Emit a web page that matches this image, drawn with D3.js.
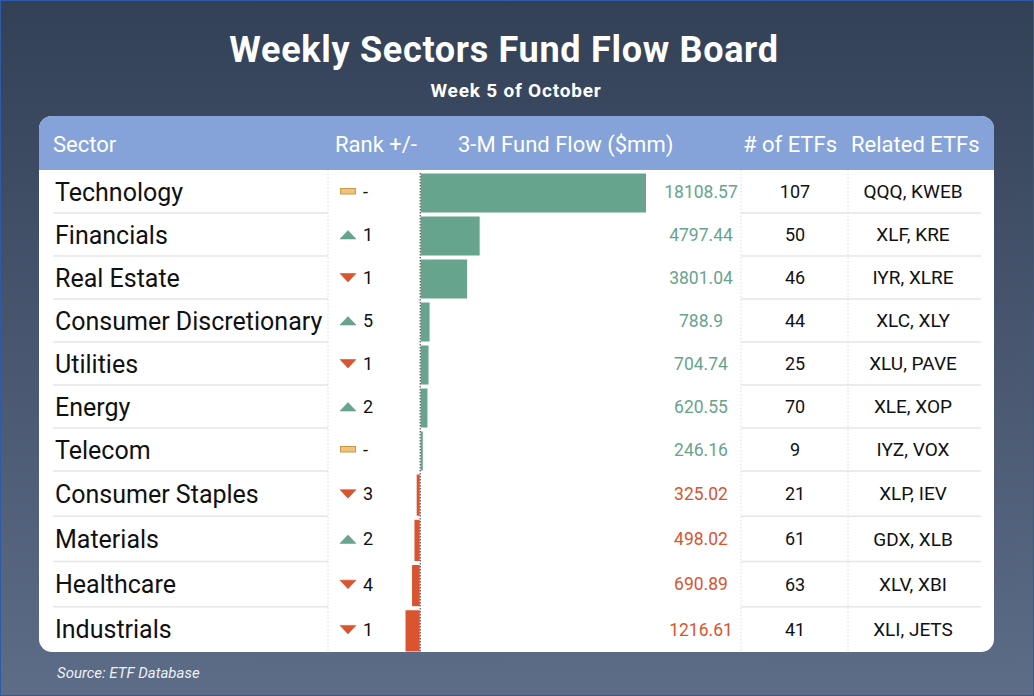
<!DOCTYPE html>
<html>
<head>
<meta charset="utf-8">
<script src="https://cdn.jsdelivr.net/npm/d3@7"></script>
<style>
  html, body { margin: 0; padding: 0; background: #344258; }
  svg { display: block; }
</style>
</head>
<body>
<svg id="chart" width="1034" height="696"></svg>
<script>
// ---- data ----
const sectors = ["Technology", "Financials", "Real Estate", "Consumer Discretionary", "Utilities",
  "Energy", "Telecom", "Consumer Staples", "Materials", "Healthcare", "Industrials"];
const rankDir = ["flat", "up", "down", "up", "down", "up", "flat", "down", "up", "down", "down"];
const rankChange = ["-", "1", "1", "5", "1", "2", "-", "3", "2", "4", "1"];
const fundFlow = [18108.57, 4797.44, 3801.04, 788.9, 704.74, 620.55, 246.16, -325.02, -498.02, -690.89, -1216.61];
const flowLabels = ["18108.57", "4797.44", "3801.04", "788.9", "704.74", "620.55", "246.16", "325.02", "498.02", "690.89", "1216.61"];
const numETFs = [107, 50, 46, 44, 25, 70, 9, 21, 61, 63, 41];
const relatedETFs = ["QQQ, KWEB", "XLF, KRE", "IYR, XLRE", "XLC, XLY", "XLU, PAVE", "XLE, XOP",
  "IYZ, VOX", "XLP, IEV", "GDX, XLB", "XLV, XBI", "XLI, JETS"];
const headers = ["Sector", "Rank +/-", "3-M Fund Flow ($mm)", "# of ETFs", "Related ETFs"];
const titleText = "Weekly Sectors Fund Flow Board";
const subtitleText = "Week 5 of October";
const sourceText = "Source: ETF Database";

// ---- layout ----
const W = 1034, H = 696;
const svg = d3.select("#chart");
const FONT = "Roboto, 'Noto Sans', sans-serif";
const GREEN = "#67a48e", RED = "#d9542f", YELLOW = "#f0c27b", YELLOW_S = "#c99a45";

const defs = svg.append("defs");
const grad = defs.append("linearGradient").attr("id", "bg").attr("x1", 0).attr("y1", 0).attr("x2", 0).attr("y2", 1);
grad.append("stop").attr("offset", "0%").attr("stop-color", "#334157");
grad.append("stop").attr("offset", "100%").attr("stop-color", "#5d6c87");
svg.append("rect").attr("x", 0).attr("y", 0).attr("width", W).attr("height", H).attr("fill", "url(#bg)");
svg.append("rect").attr("x", 0.5).attr("y", 0.5).attr("width", W - 1).attr("height", H - 1)
  .attr("fill", "none").attr("stroke", "#2f5aa6").attr("stroke-width", 1);

// title
svg.append("text").attr("x", 504).attr("y", 62).attr("text-anchor", "middle")
  .attr("font-family", FONT).attr("font-weight", 700).attr("font-size", 36).attr("letter-spacing", 0.7)
  .attr("fill", "#fff").text(titleText);
svg.append("text").attr("x", 516).attr("y", 97).attr("text-anchor", "middle")
  .attr("font-family", FONT).attr("font-weight", 700).attr("font-size", 19).attr("letter-spacing", 0.8)
  .attr("fill", "#fff").text(subtitleText);

// table panel
const tL = 39, tR = 994, tT = 116, tB = 652, hB = 170;
const clip = defs.append("clipPath").attr("id", "panel");
clip.append("rect").attr("x", tL).attr("y", tT).attr("width", tR - tL).attr("height", tB - tT).attr("rx", 13);
const panel = svg.append("g").attr("clip-path", "url(#panel)");
panel.append("rect").attr("x", tL).attr("y", tT).attr("width", tR - tL).attr("height", tB - tT).attr("fill", "#fff");
panel.append("rect").attr("x", tL).attr("y", tT).attr("width", tR - tL).attr("height", hB - tT).attr("fill", "#85a3d9");

// header
const headerX = [53, 335, 458, 743, 851];
panel.selectAll("text.hdr").data(headers).join("text").attr("class", "hdr")
  .attr("x", (d, i) => headerX[i]).attr("y", 152)
  .attr("font-family", FONT).attr("font-size", 22).attr("fill", "#fff").text(d => d);

// rows: positive group and negative group
const posIdx = d3.range(sectors.length).filter(i => fundFlow[i] >= 0);
const negIdx = d3.range(sectors.length).filter(i => fundFlow[i] < 0);
const yPos = d3.scaleBand().domain(posIdx).range([hB, 471]);
const yNeg = d3.scaleBand().domain(negIdx).range([471, tB]);
const rowY = i => fundFlow[i] >= 0 ? yPos(i) : yNeg(i);
const rowH = i => fundFlow[i] >= 0 ? yPos.bandwidth() : yNeg.bandwidth();
const mid = i => rowY(i) + rowH(i) / 2;

const x = d3.scaleLinear().domain([d3.min(fundFlow), d3.max(fundFlow)]).range([405, 646.5]);

const rows = d3.range(sectors.length);

// separators
const sep = rows.filter(i => i < sectors.length - 1);
[[53, 328], [741, 981]].forEach(([a, b]) => {
  panel.selectAll(null).data(sep).join("line")
    .attr("x1", a).attr("x2", b)
    .attr("y1", i => rowY(i) + rowH(i)).attr("y2", i => rowY(i) + rowH(i))
    .attr("stroke", "#e6e6e6").attr("stroke-width", 1.5);
});

// column dotted dividers
[328, 741, 848].forEach(cx => {
  panel.append("line").attr("x1", cx).attr("x2", cx).attr("y1", hB).attr("y2", tB)
    .attr("stroke", "#dcdcdc").attr("stroke-width", 1).attr("stroke-dasharray", "1.5,2");
});

// sector names
panel.selectAll("text.sec").data(rows).join("text").attr("class", "sec")
  .attr("x", 55).attr("y", i => mid(i)).attr("dy", "0.36em")
  .attr("font-family", FONT).attr("font-size", 25).attr("fill", "#111").text(i => sectors[i]);

// rank icons
const icon = panel.selectAll("g.icon").data(rows).join("g").attr("class", "icon")
  .attr("transform", i => `translate(348,${mid(i)})`);
icon.filter(i => rankDir[i] === "up").append("path").attr("d", "M-8,4.5 L0,-4 L8,4.5 Z").attr("fill", GREEN)
  .attr("stroke", "#5a9680").attr("stroke-width", 0.5);
icon.filter(i => rankDir[i] === "down").append("path").attr("d", "M-8,-4 L0,4.5 L8,-4 Z").attr("fill", RED)
  .attr("stroke", "#c74a28").attr("stroke-width", 0.5);
icon.filter(i => rankDir[i] === "flat").append("rect").attr("x", -7.5).attr("y", -3).attr("width", 15).attr("height", 5.5)
  .attr("fill", YELLOW).attr("stroke", YELLOW_S).attr("stroke-width", 1);
panel.selectAll("text.rank").data(rows).join("text").attr("class", "rank")
  .attr("x", 363).attr("y", i => mid(i)).attr("dy", "0.36em")
  .attr("font-family", FONT).attr("font-size", 18).attr("fill", "#111").text(i => rankChange[i]);

// bars
panel.selectAll("rect.bar").data(rows).join("rect").attr("class", "bar")
  .attr("x", i => Math.min(x(0), x(fundFlow[i])))
  .attr("width", i => Math.abs(x(fundFlow[i]) - x(0)))
  .attr("y", i => rowY(i) + 3).attr("height", i => rowH(i) - 3)
  .attr("fill", i => fundFlow[i] >= 0 ? GREEN : RED)
  .attr("stroke", "#fff").attr("stroke-width", 1);

// zero line
panel.append("line").attr("x1", x(0)).attr("x2", x(0)).attr("y1", hB + 3).attr("y2", tB)
  .attr("stroke", "#333").attr("stroke-width", 1).attr("stroke-dasharray", "1.5,1.5");

// value labels
panel.selectAll("text.val").data(rows).join("text").attr("class", "val")
  .attr("x", 701).attr("y", i => mid(i)).attr("dy", "0.36em").attr("text-anchor", "middle")
  .attr("font-family", FONT).attr("font-size", 17.5)
  .attr("fill", i => fundFlow[i] >= 0 ? GREEN : RED).text(i => flowLabels[i]);

// # of ETFs
panel.selectAll("text.num").data(rows).join("text").attr("class", "num")
  .attr("x", 795).attr("y", i => mid(i)).attr("dy", "0.36em").attr("text-anchor", "middle")
  .attr("font-family", FONT).attr("font-size", 18).attr("fill", "#111").text(i => numETFs[i]);

// related ETFs
panel.selectAll("text.rel").data(rows).join("text").attr("class", "rel")
  .attr("x", 913).attr("y", i => mid(i)).attr("dy", "0.36em").attr("text-anchor", "middle")
  .attr("font-family", FONT).attr("font-size", 19).attr("fill", "#111").text(i => relatedETFs[i]);

// source
svg.append("text").attr("x", 57).attr("y", 678)
  .attr("font-family", FONT).attr("font-style", "italic").attr("font-size", 15).attr("fill", "#eef1f6")
  .text(sourceText);
</script>
</body>
</html>
